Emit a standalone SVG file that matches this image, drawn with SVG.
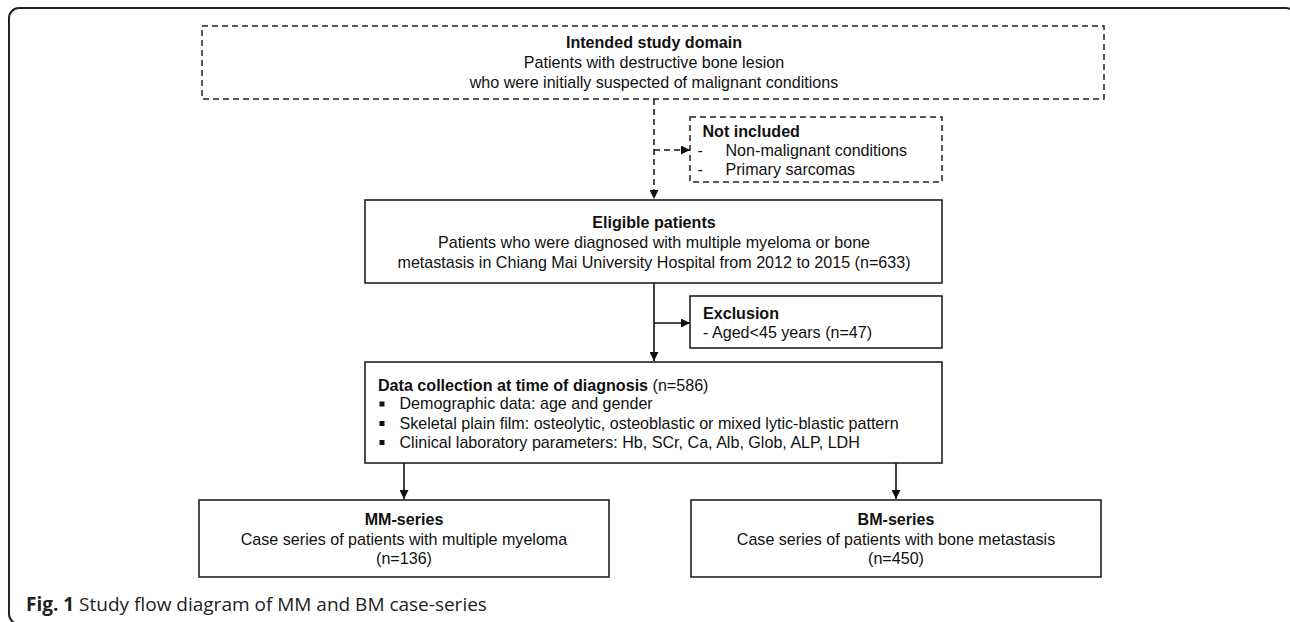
<svg xmlns="http://www.w3.org/2000/svg" width="1290" height="622" viewBox="0 0 1290 622">
<defs>
<marker id="ah" viewBox="0 0 10 10" refX="10" refY="5" markerWidth="9" markerHeight="9" markerUnits="userSpaceOnUse" orient="auto">
<path d="M0,0 L10,5 L0,10 z" fill="#111"/>
</marker>
<style>
.box{fill:#fff;stroke:#222;stroke-width:1.6}
.dbox{fill:#fff;stroke:#222;stroke-width:1.5;stroke-dasharray:6 4}
.t{font-family:"Liberation Sans",Arial,sans-serif;font-size:16.1px;fill:#111}
.b{font-weight:bold}
.c{text-anchor:middle}
.ln{fill:none;stroke:#111;stroke-width:1.6}
.dl{fill:none;stroke:#111;stroke-width:1.5;stroke-dasharray:6 4}
.cap{font-family:"Open Sans","Noto Sans",sans-serif;font-size:19px;fill:#222}
.bul{fill:#111}
</style>
</defs>
<rect x="9" y="8" width="1287" height="616" rx="10" ry="10" fill="#fff" stroke="#222" stroke-width="2"/>

<g id="connectors">
<path class="dl" d="M654,99 V199" marker-end="url(#ah)"/>
<path class="dl" d="M654,150 H690" marker-end="url(#ah)"/>
<path class="ln" d="M654,283 V361" marker-end="url(#ah)"/>
<path class="ln" d="M654,323 H690" marker-end="url(#ah)"/>
<path class="ln" d="M404,463 V499" marker-end="url(#ah)"/>
<path class="ln" d="M896,463 V499" marker-end="url(#ah)"/>
</g>

<g id="domain">
<rect class="dbox" x="202" y="26" width="902" height="73"/>
<text class="t b c" x="654" y="48">Intended study domain</text>
<text class="t c" x="654" y="68">Patients with destructive bone lesion</text>
<text class="t c" x="654" y="88">who were initially suspected of malignant conditions</text>
</g>

<g id="notincluded">
<rect class="dbox" x="690" y="117" width="252" height="65"/>
<text class="t b" x="702.5" y="137">Not included</text>
<text class="t" x="697.5" y="156">-</text>
<text class="t" x="725.5" y="156">Non-malignant conditions</text>
<text class="t" x="697.5" y="175">-</text>
<text class="t" x="725.5" y="175">Primary sarcomas</text>
</g>

<g id="eligible">
<rect class="box" x="365" y="200" width="577" height="83"/>
<text class="t b c" x="654" y="228">Eligible patients</text>
<text class="t c" x="654" y="248">Patients who were diagnosed with multiple myeloma or bone</text>
<text class="t c" x="654" y="268">metastasis in Chiang Mai University Hospital from 2012 to 2015 (n=633)</text>
</g>

<g id="exclusion">
<rect class="box" x="690" y="296" width="252" height="52"/>
<text class="t b" x="703" y="319">Exclusion</text>
<text class="t" x="703" y="338">- Aged&lt;45 years (n=47)</text>
</g>

<g id="datacollection">
<rect class="box" x="365" y="362" width="577" height="101"/>
<text class="t" x="378" y="390.5"><tspan class="b">Data collection at time of diagnosis</tspan> (n=586)</text>
<rect class="bul" x="379.5" y="401.5" width="5" height="5"/>
<text class="t" x="399.5" y="409">Demographic data: age and gender</text>
<rect class="bul" x="379.5" y="421" width="5" height="5"/>
<text class="t" x="399.5" y="428.5">Skeletal plain film: osteolytic, osteoblastic or mixed lytic-blastic pattern</text>
<rect class="bul" x="379.5" y="440" width="5" height="5"/>
<text class="t" x="399.5" y="447.5">Clinical laboratory parameters: Hb, SCr, Ca, Alb, Glob, ALP, LDH</text>
</g>

<g id="mm">
<rect class="box" x="199" y="500" width="410" height="77"/>
<text class="t b c" x="404" y="525">MM-series</text>
<text class="t c" x="404" y="545">Case series of patients with multiple myeloma</text>
<text class="t c" x="404" y="564">(n=136)</text>
</g>

<g id="bm">
<rect class="box" x="691" y="500" width="410" height="77"/>
<text class="t b c" x="896" y="525">BM-series</text>
<text class="t c" x="896" y="545">Case series of patients with bone metastasis</text>
<text class="t c" x="896" y="564">(n=450)</text>
</g>

<text class="cap" x="26" y="611"><tspan font-weight="bold">Fig. 1</tspan> Study flow diagram of MM and BM case-series</text>
</svg>
